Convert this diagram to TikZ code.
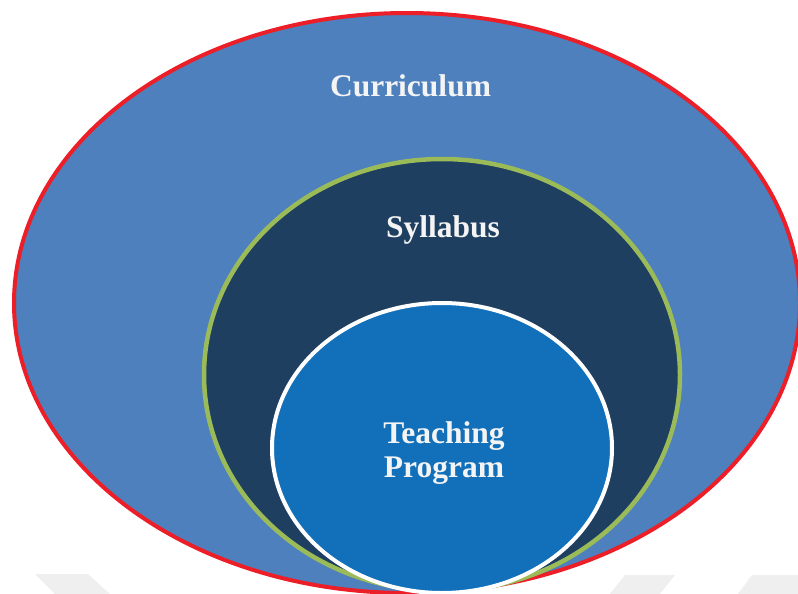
\documentclass[tikz,border=0pt]{standalone}
\usepackage{fontspec}
\setmainfont{Liberation Serif}
\definecolor{outerfill}{HTML}{4D80BC}
\definecolor{midfill}{HTML}{1E3F60}
\definecolor{innerfill}{HTML}{1270BA}
\definecolor{redline}{HTML}{EC1E27}
\definecolor{greenline}{HTML}{9BBB59}
\definecolor{txt}{HTML}{F4F4F4}
\definecolor{wm}{HTML}{EFEFEF}
\tikzset{
  lbl/.style={text=txt, font=\fontsize{31.5}{34}\selectfont\bfseries, align=center, inner sep=0pt},
}
\begin{document}
\begin{tikzpicture}[x=1pt,y=-1pt]
\useasboundingbox (0,0) rectangle (798,594);
\clip (0,0) rectangle (798,594);
% faint watermark shapes
\fill[wm] (35,574) -- (88,574) -- (110,594) -- (55,594) -- cycle;
\fill[wm] (625,575) -- (675,575) -- (660,594) -- (610,594) -- cycle;
\fill[wm] (752,575) -- (798,575) -- (798,594) -- (738,594) -- cycle;
% ellipses
\draw[line width=4pt, draw=redline, fill=outerfill] (407,303) ellipse [x radius=393, y radius=290];
\draw[line width=4.5pt, draw=greenline, fill=midfill] (442,375) ellipse [x radius=238, y radius=216];
\draw[line width=4pt, draw=white, fill=innerfill] (442,448) ellipse [x radius=170, y radius=145];
% labels
\node[lbl, anchor=base] (curr) at (410.5,96) {Curriculum};
\node[lbl, anchor=base] (syl) at (443,237) {Syllabus};
\node[lbl, anchor=base] (teach) at (444,477) {Teaching\\Program};
\end{tikzpicture}
\end{document}
